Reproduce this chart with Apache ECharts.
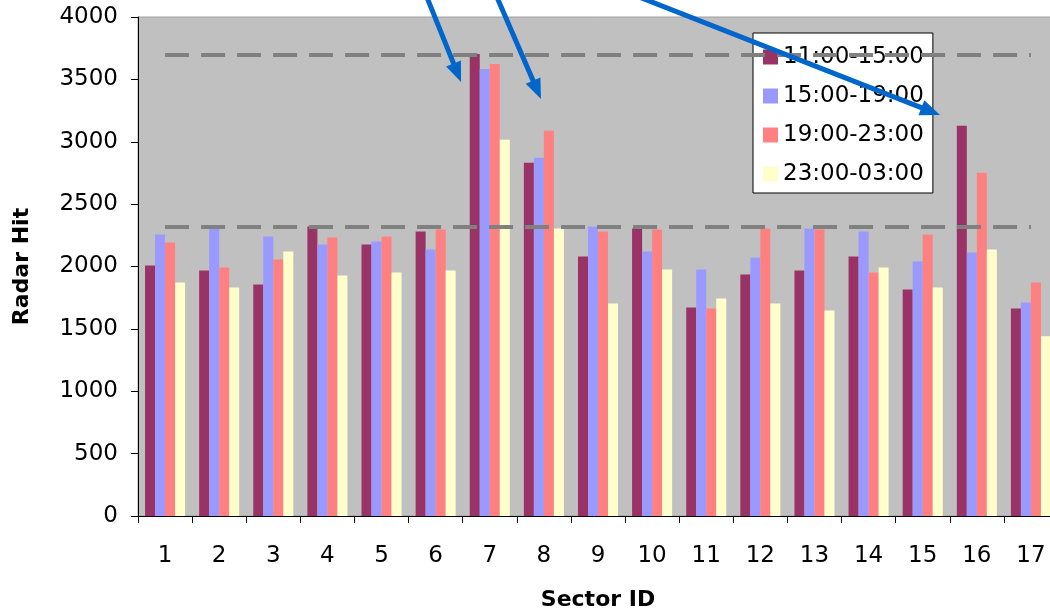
<!DOCTYPE html>
<html>
<head>
<meta charset="utf-8">
<script src="https://cdn.jsdelivr.net/npm/echarts@6/dist/echarts.min.js"></script>
<style>
html,body{margin:0;padding:0;background:#fff;}
#chart{width:1050px;height:610px;}
</style>
</head>
<body>
<div id="chart"></div>
<script>
// ---- data ----
var sectors = ['1','2','3','4','5','6','7','8','9','10','11','12','13','14','15','16','17'];
var seriesNames = ['11:00-15:00','15:00-19:00','19:00-23:00','23:00-03:00'];
var s1100 = [2008,1968,1856,2320,2176,2280,3704,2832,2080,2304,1672,1936,1968,2080,1816,3128,1664];
var s1500 = [2256,2304,2240,2176,2200,2136,3584,2872,2320,2120,1976,2072,2304,2280,2040,2112,1712];
var s1900 = [2192,1992,2056,2232,2240,2296,3624,3088,2280,2296,1664,2304,2296,1952,2256,2752,1872];
var s2300 = [1872,1832,2120,1928,1952,1968,3016,2304,1704,1976,1744,1704,1648,1992,1832,2136,1440];
var thresholds = [3700, 2320];
var yTicks = [0,500,1000,1500,2000,2500,3000,3500,4000];

var colors = ['#993366','#9999FF','#FF8080','#FFFFCC'];
var FONT = 'DejaVu Sans';

function arrow(x1, y1, x2, y2) {
  var dx = x2 - x1, dy = y2 - y1;
  var len = Math.sqrt(dx*dx + dy*dy);
  var ux = dx/len, uy = dy/len;
  var px = -uy, py = ux;
  var hl = 20, hw = 8;
  var bx = x2 - ux*hl, by = y2 - uy*hl;
  return [
    { type:'line', z:100, shape:{x1:x1,y1:y1,x2:x2-ux*(hl-4),y2:y2-uy*(hl-4)},
      style:{stroke:'#0066CC', lineWidth:5} },
    { type:'polygon', z:100, shape:{points:[[x2,y2],[bx+px*hw,by+py*hw],[bx-px*hw,by-py*hw]]},
      style:{fill:'#0066CC'} }
  ];
}

var barData = [s1100, s1500, s1900, s2300];
var series = barData.map(function(d, i){
  return {
    name: seriesNames[i], type:'bar', data:d, z:3,
    barGap:'0%', barCategoryGap:'26%',
    itemStyle:{color:colors[i]}, emphasis:{disabled:true}
  };
});
series.push({
  name:'thresholds', type:'line', data:[], z:2, silent:true,
  markLine:{
    symbol:['none','none'], silent:true, label:{show:false},
    lineStyle:{color:'#808080', width:4, type:[24,12]},
    data: thresholds.map(function(t){ return [{coord:[sectors[0], t]},{coord:[sectors[sectors.length-1], t]}]; })
  }
});

var chart = echarts.init(document.getElementById('chart'));
chart.setOption({
  animation:false,
  backgroundColor:'#ffffff',
  grid:{left:138, top:17, width:920, height:499, containLabel:false, outerBoundsMode:'none',
    show:true, backgroundColor:'#C0C0C0', borderColor:'#A0A0A0', borderWidth:1},
  legend:{
    data:seriesNames, orient:'vertical', left:753, top:33,
    icon:'rect', itemWidth:15, itemHeight:15, itemGap:15,
    padding:[12,9,7,10], backgroundColor:'#ffffff', borderColor:'#000000', borderWidth:1,
    textStyle:{fontFamily:FONT, fontSize:23, color:'#000', lineHeight:24}
  },
  xAxis:{
    type:'category', data:sectors,
    name:'Sector ID', nameLocation:'middle', nameGap:73,
    nameTextStyle:{fontFamily:FONT, fontSize:22, fontWeight:'bold', color:'#000'},
    axisLine:{lineStyle:{color:'#000', width:1}},
    axisTick:{show:true, length:7, lineStyle:{color:'#000'}},
    axisLabel:{fontFamily:FONT, fontSize:23, color:'#000', margin:29, interval:0}
  },
  yAxis:{
    type:'value', min:yTicks[0], max:yTicks[yTicks.length-1], interval:500,
    name:'Radar Hit', nameLocation:'middle', nameGap:105, nameRotate:90,
    nameTextStyle:{fontFamily:FONT, fontSize:22, fontWeight:'bold', color:'#000'},
    axisLine:{show:true, lineStyle:{color:'#000', width:1}},
    axisTick:{show:true, length:7, lineStyle:{color:'#000'}},
    splitLine:{show:false},
    axisLabel:{fontFamily:FONT, fontSize:23, color:'#000', margin:20,
      formatter:function(v){ return String(v); }}
  },
  series: series,
  graphic: [].concat(
    arrow(426, -5, 461, 82),
    arrow(496, -5, 541, 99),
    arrow(634, -5, 940, 115)
  )
});
</script>
</body>
</html>
